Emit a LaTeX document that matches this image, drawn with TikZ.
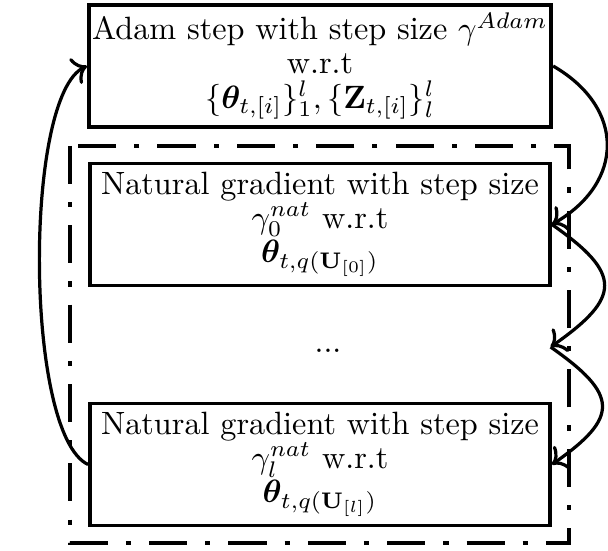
\documentclass[tikz,border=0pt]{standalone}
\usepackage{amsmath,bm}
\usepackage{tikz}
\usetikzlibrary{arrows.meta}

\begin{document}
\begin{tikzpicture}[
  x=0.31pt,y=-0.31pt,
  box/.style={draw,line width=1.2pt,minimum width=142.6pt,minimum height=37.8pt,align=center,inner sep=1pt,
    font=\fontsize{10}{10.6}\selectfont},
  gapnode/.style={minimum width=137.6pt,text height=3.7pt,text depth=0pt,inner sep=0pt},
  arrow/.style={-{To[scale=1.1]},line width=1pt},
  frame/.style={line width=1.2pt,dash pattern=on 11.8pt off 5.6pt on 1.6pt off 5.6pt}
]
\useasboundingbox (0,0) rectangle (608,550);
\node[box] (adam) at (320,66) {Adam step with step size $\gamma^{Adam}$\\ w.r.t\\ $\{\bm{\theta}_{t,[i]}\}_1^l, \{\mathbf{Z}_{t,[i]}\}_l^l$};
\node[box] (nat0) at (320,224.5) {Natural gradient with step size\\ $\gamma_0^{nat}$ w.r.t\\ $\bm{\theta}_{t,q(\mathbf{U}_{[0]})}$};
\node[gapnode] (dots) at (328,347) {...};
\node[box] (natl) at (320,464.5) {Natural gradient with step size\\ $\gamma_l^{nat}$ w.r.t\\ $\bm{\theta}_{t,q(\mathbf{U}_{[l]})}$};
\draw[frame] (70,146) rectangle (569,543);
\draw[arrow] (adam.east) to[out=-30,in=30,looseness=1.35] (nat0.east);
\draw[arrow] (nat0.east) to[out=-35,in=35,looseness=1.8] (dots.east);
\draw[arrow] (dots.east) to[out=-35,in=35,looseness=1.8] (natl.east);
\draw[arrow] (natl.west) to[out=155,in=-155,looseness=0.45] (adam.west);
\end{tikzpicture}
\end{document}
